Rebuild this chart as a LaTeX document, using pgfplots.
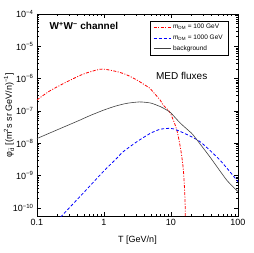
\documentclass[border=0pt]{standalone}
\usepackage{fontspec}
\setmainfont{Liberation Sans}
\usepackage{pgfplots}
\pgfplotsset{compat=1.18}
\begin{document}
\begin{tikzpicture}
\begin{axis}[
  at={(0,0)}, anchor=south west,
  scale only axis, width=201pt, height=202pt,
  xmode=log, ymode=log,
  xmin=0.1, xmax=100, ymin=5.6e-11, ymax=1e-4,
  xtick={0.1,1,10,100}, xticklabels={0.1,1,10,100},
  ytick={1e-10,1e-9,1e-8,1e-7,1e-6,1e-5,1e-4},
  yticklabels={10\textsuperscript{−10},10\textsuperscript{−9},10\textsuperscript{−8},10\textsuperscript{−7},10\textsuperscript{−6},10\textsuperscript{−5},10\textsuperscript{−4}},
  tick align=inside,
  major tick length=4pt, minor tick length=2pt,
  ticklabel style={font=\fontsize{9}{10}\selectfont},
  axis line style={line width=0.8pt, black},
  every tick/.style={black, line width=0.5pt},
  xlabel={T [GeV/n]},
  ylabel={φ\textsubscript{$\bar{\mbox{d}}$} [(m\textsuperscript{2}s sr GeV/n)\textsuperscript{−1}]},
  label style={font=\fontsize{9}{10}\selectfont},
  xlabel style={at={(axis description cs:0.5,-0.119)}, anchor=center},
  ylabel style={at={(axis description cs:-0.139,0.5)}, anchor=center},
  legend style={at={(rel axis cs:0.95,0.967)}, anchor=north east,
    font=\fontsize{6.5}{7.5}\selectfont, draw=black, line width=0.4pt,
    row sep=0.5pt, inner xsep=3pt, inner ysep=1.5pt},
  legend cell align=left,
]
\addplot[red, line width=0.8pt, dash pattern=on 3pt off 1.5pt on 1pt off 1.5pt, smooth, tension=0.4] coordinates {
(0.1,2.2e-7) (0.156,4.2e-7) (0.277,7.9e-7) (0.49,1.38e-6) (0.87,1.95e-6)
(1.2,1.85e-6) (1.74,1.55e-6) (2.2,1.3e-6) (3.08,9.1e-7) (4.86,5e-7)
(5.45,3.8e-7) (6.86,2.2e-7) (7.7,1.5e-7) (9.7,8.8e-8) (12.2,2.6e-8)
(14,6.2e-9) (15.3,1.5e-9) (16.2,1.7e-10) (16.5,1e-11)
};
\addlegendentry{m\textsubscript{DM} = 100 GeV}
\addplot[blue, line width=0.8pt, dash pattern=on 3pt off 2pt, smooth, tension=0.4] coordinates {
(0.2,4e-11) (0.5,3e-10) (1.0,1.4e-9) (1.5,3.2e-9) (1.94,5.5e-9)
(3.11,1.12e-8) (4.86,2.0e-8) (6.86,2.7e-8) (9.5,2.9e-8) (10.8,2.8e-8)
(15.3,2.1e-8) (27.1,1.12e-8) (53.8,3.0e-9) (100,6.5e-10)
};
\addlegendentry{m\textsubscript{DM} = 1000 GeV}
\addplot[black!75, line width=0.6pt, smooth, tension=0.4] coordinates {
(0.1,1.4e-8) (0.2,2.6e-8) (0.4,4.8e-8) (0.62,7.2e-8) (1.0,1.07e-7)
(1.5,1.42e-7) (2.2,1.72e-7) (3.4,1.9e-7) (5,1.75e-7) (7,1.35e-7)
(8.6,1.07e-7) (10,8.6e-8) (13.6,4.3e-8) (19,2.3e-8) (21.5,1.78e-8)
(38,3.8e-9) (68,7.2e-10) (100,3.2e-10)
};
\addlegendentry{background}
\node[anchor=west, font=\fontsize{10}{12}\selectfont\bfseries] at (rel axis cs:0.045,0.94) {W\textsuperscript{+}W\textsuperscript{−} channel};
\node[font=\fontsize{10}{12}\selectfont] at (rel axis cs:0.72,0.693) {MED fluxes};
\end{axis}
\path (-37pt,-37pt) rectangle (216pt,216pt);
\end{tikzpicture}
\end{document}
